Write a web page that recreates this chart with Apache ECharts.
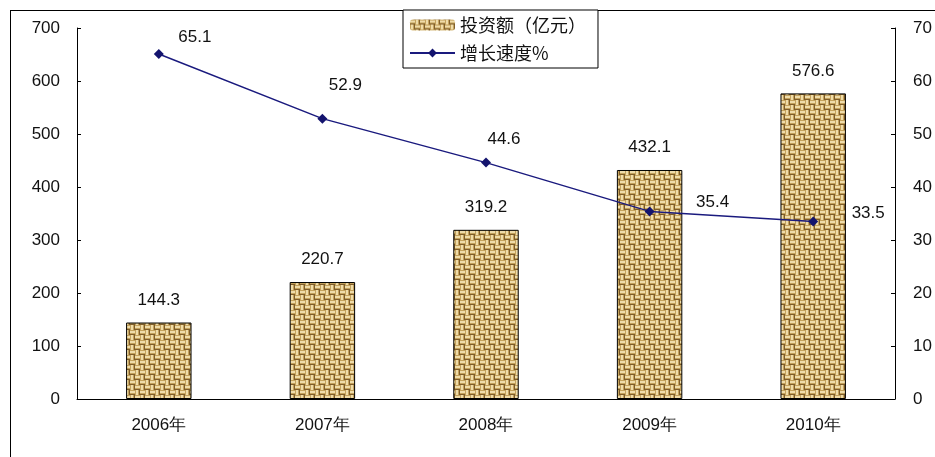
<!DOCTYPE html>
<html>
<head>
<meta charset="utf-8">
<script src="https://cdn.jsdelivr.net/npm/echarts@6/dist/echarts.min.js"></script>
<style>
html,body{margin:0;padding:0;background:#fff;}
#chart{width:935px;height:457px;}
</style>
</head>
<body>
<div id="chart"></div>
<script>
const categories = ['2006年', '2007年', '2008年', '2009年', '2010年'];
const investment = [144.3, 220.7, 319.2, 432.1, 576.6];
const growthRate = [65.1, 52.9, 44.6, 35.4, 33.5];
const leftTicks = { min: 0, max: 700, interval: 100 };
const rightTicks = { min: 0, max: 70, interval: 10 };
const seriesNames = ['投资额（亿元）', '增长速度%'];
// style only: label offsets for the growth-rate labels
const growthLabelOffsets = [[36, -17], [23, -33], [18, -23], [63, -9], [55, -8]];

function makeBurlap() {
  const c = document.createElement('canvas');
  c.width = 20; c.height = 20;
  const g = c.getContext('2d');
  g.fillStyle = '#c4a25c';
  g.fillRect(0, 0, 20, 20);
  for (let i = 0; i < 4; i++) {
    for (let j = 0; j < 4; j++) {
      const x = i * 5, y = j * 5;
      if ((i + j) % 2 === 0) {
        g.fillStyle = '#efdcaa';
        g.fillRect(x, y + 1, 5, 2);
        g.fillStyle = '#7d5c2a';
        g.fillRect(x, y + 4, 5, 1);
      } else {
        g.fillStyle = '#efdcaa';
        g.fillRect(x + 1, y, 2, 5);
        g.fillStyle = '#7d5c2a';
        g.fillRect(x + 4, y, 1, 5);
      }
    }
  }
  return c;
}
const burlap = makeBurlap();

const font = '"Liberation Sans", Arial, sans-serif';
const chart = echarts.init(document.getElementById('chart'));
chart.setOption({
  backgroundColor: '#fff',
  animation: false,
  textStyle: { fontFamily: font },
  graphic: [
    { type: 'line', shape: { x1: 10.5, y1: 10.5, x2: 10.5, y2: 457 }, style: { stroke: '#000', lineWidth: 1 }, z: 0 },
    { type: 'line', shape: { x1: 10, y1: 10.5, x2: 935, y2: 10.5 }, style: { stroke: '#000', lineWidth: 1 }, z: 0 }
  ],
  legend: {
    orient: 'vertical',
    left: 403, top: 10,
    padding: [4, 12, 4, 6],
    itemGap: 6,
    itemWidth: 45, itemHeight: 11,
    borderColor: '#000', borderWidth: 1,
    backgroundColor: '#fff',
    textStyle: { fontSize: 18, color: '#111', fontFamily: '"Noto Sans CJK SC", sans-serif', lineHeight: 22 },
    data: [
      { name: seriesNames[0], itemStyle: { borderWidth: 0 } },
      { name: seriesNames[1] }
    ]
  },
  grid: { left: 77, right: 40, top: 28, bottom: 58 },
  xAxis: {
    type: 'category',
    data: categories,
    axisLine: { lineStyle: { color: '#000', width: 1 } },
    axisTick: { show: false },
    axisLabel: { color: '#111', fontSize: 17, margin: 18, fontFamily: font }
  },
  yAxis: [
    {
      type: 'value', min: leftTicks.min, max: leftTicks.max, interval: leftTicks.interval,
      axisLine: { show: true, lineStyle: { color: '#000' } },
      axisTick: { show: true, inside: true, length: 4, lineStyle: { color: '#000' } },
      splitLine: { show: false },
      axisLabel: { color: '#111', fontSize: 17, margin: 17, fontFamily: font }
    },
    {
      type: 'value', min: rightTicks.min, max: rightTicks.max, interval: rightTicks.interval,
      axisLine: { show: true, lineStyle: { color: '#000' } },
      axisTick: { show: true, inside: true, length: 4, lineStyle: { color: '#000' } },
      splitLine: { show: false },
      axisLabel: { color: '#111', fontSize: 17, margin: 18, fontFamily: font }
    }
  ],
  series: [
    {
      name: seriesNames[0],
      type: 'bar',
      yAxisIndex: 0,
      barWidth: '40%',
      data: investment,
      itemStyle: { color: { image: burlap, repeat: 'repeat' }, borderColor: '#000', borderWidth: 1 },
      label: { show: true, position: 'top', distance: 14, fontSize: 17, color: '#111', fontFamily: font }
    },
    {
      name: seriesNames[1],
      type: 'line',
      yAxisIndex: 1,
      symbol: 'diamond',
      symbolSize: 10,
      z: 5,
      lineStyle: { color: '#1a1a7e', width: 1.5 },
      itemStyle: { color: '#14146e' },
      data: growthRate.map((v, i) => ({
        value: v,
        label: { offset: growthLabelOffsets[i] }
      })),
      label: { show: true, position: 'inside', fontSize: 17, color: '#111', fontFamily: font }
    }
  ]
});
</script>
</body>
</html>
